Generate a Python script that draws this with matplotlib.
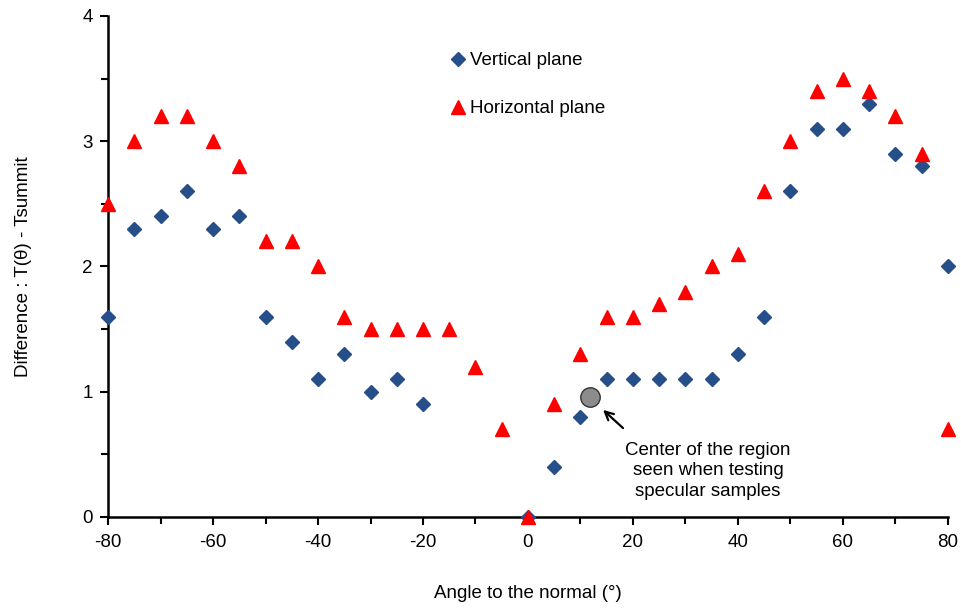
import matplotlib
matplotlib.use("Agg")
import matplotlib.pyplot as plt
from matplotlib.ticker import MultipleLocator

plt.rcParams['font.family'] = ['Liberation Sans', 'DejaVu Sans']
plt.rcParams['axes.unicode_minus'] = False

# Angles (degrees) and temperature differences
angles_vertical = [-80, -75, -70, -65, -60, -55, -50, -45, -40, -35, -30, -25, -20,
                   0, 5, 10, 15, 20, 25, 30, 35, 40, 45, 50, 55, 60, 65, 70, 75, 80]
diff_vertical = [1.6, 2.3, 2.4, 2.6, 2.3, 2.4, 1.6, 1.4, 1.1, 1.3, 1.0, 1.1, 0.9,
                 0.0, 0.4, 0.8, 1.1, 1.1, 1.1, 1.1, 1.1, 1.3, 1.6, 2.6, 3.1, 3.1, 3.3, 2.9, 2.8, 2.0]

angles_horizontal = [-80, -75, -70, -65, -60, -55, -50, -45, -40, -35, -30, -25, -20, -15, -10, -5,
                     0, 5, 10, 15, 20, 25, 30, 35, 40, 45, 50, 55, 60, 65, 70, 75, 80]
diff_horizontal = [2.5, 3.0, 3.2, 3.2, 3.0, 2.8, 2.2, 2.2, 2.0, 1.6, 1.5, 1.5, 1.5, 1.5, 1.2, 0.7,
                   0.0, 0.9, 1.3, 1.6, 1.6, 1.7, 1.8, 2.0, 2.1, 2.6, 3.0, 3.4, 3.5, 3.4, 3.2, 2.9, 0.7]

center_point = (11.9, 0.955)

FS = 13.5

fig = plt.figure(figsize=(9.62, 6.08), dpi=100)
ax = fig.add_axes([0.1123, 0.1497, 0.8731, 0.824])

ax.plot(angles_vertical, diff_vertical, linestyle='none', marker='D', markersize=7,
        color='#264F8A', label='Vertical plane', clip_on=False, zorder=3)
ax.plot(angles_horizontal, diff_horizontal, linestyle='none', marker='^', markersize=9.5,
        color='#FF0000', label='Horizontal plane', clip_on=False, zorder=4)

ax.plot([center_point[0]], [center_point[1]], linestyle='none', marker='o', markersize=14,
        markerfacecolor='#8C8C8C', markeredgecolor='#333333', markeredgewidth=1.0, zorder=5)

# Note about the specular region, with its pointer arrow
ax.text(34.3, 0.37, 'Center of the region\nseen when testing\nspecular samples',
        ha='center', va='center', fontsize=FS, linespacing=1.28)
ax.annotate('', xy=(14.3, 0.855), xytext=(18.1, 0.71),
            arrowprops=dict(arrowstyle='->', color='black', lw=1.6,
                            shrinkA=0, shrinkB=0, mutation_scale=15))

ax.set_xlim(-80, 80)
ax.set_ylim(0, 4)
ax.xaxis.set_major_locator(MultipleLocator(20))
ax.xaxis.set_minor_locator(MultipleLocator(10))
ax.yaxis.set_major_locator(MultipleLocator(1))
ax.yaxis.set_minor_locator(MultipleLocator(0.5))
ax.tick_params(which='both', direction='out', width=1.5, labelsize=FS)
ax.tick_params(which='major', length=6)
ax.tick_params(which='minor', length=5)
ax.tick_params(axis='x', which='major', pad=6.5)
ax.tick_params(axis='y', which='major', pad=5)

for side in ('top', 'right'):
    ax.spines[side].set_visible(False)
for side in ('left', 'bottom'):
    ax.spines[side].set_linewidth(1.8)

ax.set_xlabel('Angle to the normal (°)', fontsize=FS, labelpad=24)
ax.set_ylabel('Difference : T(θ) - Tsummit', fontsize=FS, labelpad=36)

ax.legend(loc='upper left', bbox_to_anchor=(0.407, 0.928), frameon=False, fontsize=FS,
          labelspacing=1.66, handletextpad=0.15, handlelength=0.9, borderaxespad=0,
          borderpad=0)

fig.savefig('out.png', dpi=100)
